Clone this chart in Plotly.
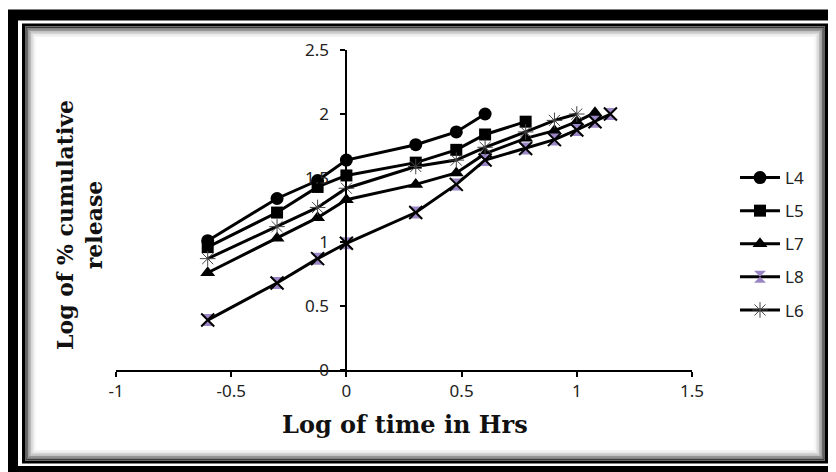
import plotly.graph_objects as go

# ---- data ----
log_time = [-0.602, -0.301, -0.125, 0.0, 0.301, 0.477, 0.602, 0.778, 0.903, 1.0, 1.079, 1.146]
L4 = [1.01, 1.34, 1.48, 1.64, 1.76, 1.86, 2.0]
L5 = [0.96, 1.23, 1.43, 1.52, 1.62, 1.72, 1.84, 1.94]
L7 = [0.76, 1.03, 1.19, 1.33, 1.45, 1.54, 1.69, 1.81, 1.87, 1.94, 2.01]
L8 = [0.39, 0.68, 0.87, 0.99, 1.23, 1.45, 1.64, 1.73, 1.80, 1.875, 1.94, 2.0]
L6 = [0.87, 1.12, 1.27, 1.42, 1.59, 1.64, 1.74, 1.86, 1.95, 2.0]
x_ticks = [-1, -0.5, 0, 0.5, 1, 1.5]
y_ticks = [0, 0.5, 1, 1.5, 2, 2.5]

# page is offset by the default 8px body margin
OFF = 8
W, H = 836 - OFF, 472 - OFF
PL, PR, PT, PB = 116, 692, 50, 370          # plot area in page pixels
PW, PH = PR - PL, PB - PT
ML, MT = PL - OFF, PT - OFF
MR, MB = W - ML - PW, H - MT - PH

def px(x):
    return (x - PL) / PW

def py(y):
    return (PB - y) / PH

fig = go.Figure()
LW = 3
tick_font = dict(family="Noto Sans", size=17, color="#222")

fig.add_trace(go.Scatter(x=log_time[:len(L4)], y=L4, name="L4", mode="lines+markers",
                         line=dict(color="black", width=LW),
                         marker=dict(symbol="circle", size=13, color="black"),
                         legendgroup="a"))
fig.add_trace(go.Scatter(x=log_time[:len(L5)], y=L5, name="L5", mode="lines+markers",
                         line=dict(color="black", width=LW),
                         marker=dict(symbol="square", size=12, color="black"),
                         legendgroup="b"))
fig.add_trace(go.Scatter(x=log_time[:len(L7)], y=L7, name="L7", mode="lines+markers",
                         line=dict(color="black", width=LW),
                         marker=dict(symbol="triangle-up", size=13, color="black"),
                         legendgroup="c"))
fig.add_trace(go.Scatter(x=log_time[:len(L8)], y=L8, name="L8", mode="lines+markers",
                         line=dict(color="black", width=LW),
                         marker=dict(symbol="hourglass", size=12, color="#9A86C4",
                                     line=dict(width=0)),
                         legendgroup="d"))
fig.add_trace(go.Scatter(x=log_time[:len(L8)], y=L8, name="L8", mode="markers",
                         marker=dict(symbol="x-thin-open", size=13, color="black",
                                     line=dict(color="black", width=2)),
                         showlegend=False, legendgroup="d"))
fig.add_trace(go.Scatter(x=log_time[:len(L6)], y=L6, name="L6", mode="lines+markers",
                         line=dict(color="black", width=LW),
                         marker=dict(symbol="asterisk-open", size=13, color="#444",
                                     line=dict(color="#444", width=1)),
                         legendgroup="e"))

shapes = []
# outer thick black frame
shapes.append(dict(type="rect", xref="paper", yref="paper",
                   x0=px(12.5), x1=px(836.5), y0=py(471.5), y1=py(15),
                   line=dict(color="black", width=11), layer="below"))
# inner thin frame
shapes.append(dict(type="rect", xref="paper", yref="paper",
                   x0=px(23.5), x1=px(826.5), y0=py(462), y1=py(25),
                   line=dict(color="black", width=3), layer="below"))
# soft inner shadow
greys = ["#3a3a3a", "#6a6a6a", "#959595", "#b8b8b8", "#d4d4d4", "#e8e8e8", "#f5f5f5"]
for i, g in enumerate(greys):
    d = 2.5 + 1.5 * i
    shapes.append(dict(type="rect", xref="paper", yref="paper",
                       x0=px(23.5 + d), x1=px(826.5 - d), y0=py(462 - d), y1=py(25 + d),
                       line=dict(color=g, width=1.6), layer="below"))

annotations = [
    dict(text="<b>Log of time in Hrs</b>", xref="paper", yref="paper", x=px(405), y=py(424),
         showarrow=False, font=dict(family="DejaVu Serif", size=24, color="#111"),
         xanchor="center", yanchor="middle"),
    dict(text="<b>Log of % cumulative</b><br><b>release</b>", xref="paper", yref="paper",
         x=px(79), y=py(225), showarrow=False, textangle=-90,
         font=dict(family="DejaVu Serif", size=22, color="#111"),
         xanchor="center", yanchor="middle"),
]

fig.update_layout(
    width=W, height=H,
    margin=dict(l=ML, r=MR, t=MT, b=MB),
    paper_bgcolor="white", plot_bgcolor="white",
    showlegend=True,
    legend=dict(x=px(735), y=py(160), xanchor="left", yanchor="top",
                font=dict(family="Noto Sans", size=17, color="#222"),
                tracegroupgap=8, bgcolor="rgba(0,0,0,0)", itemwidth=40),
    xaxis=dict(range=[-1, 1.5], tickvals=x_ticks, ticktext=[str(v) for v in x_ticks],
               showgrid=False, zeroline=False, showline=True, linecolor="black",
               linewidth=2, ticks="outside", ticklen=5, tickwidth=2, tickcolor="black",
               tickfont=tick_font, domain=[0, 1], fixedrange=True),
    yaxis=dict(range=[0, 2.5], tickvals=y_ticks, ticktext=[str(v) for v in y_ticks],
               showgrid=False, zeroline=False, showline=True, linecolor="black",
               linewidth=2, ticks="outside", ticklen=5, tickwidth=2, tickcolor="black",
               tickfont=tick_font, anchor="free", position=0.4, fixedrange=True,
               ticklabelstandoff=8),
    shapes=shapes,
    annotations=annotations,
)

fig.write_html("out.html")
